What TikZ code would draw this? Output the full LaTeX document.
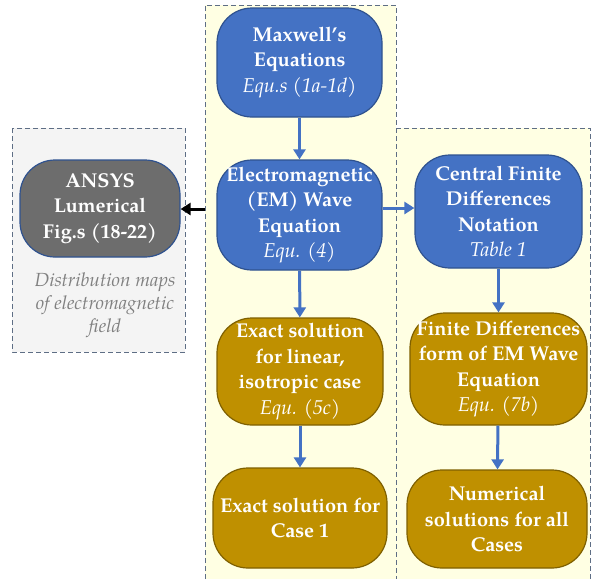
\documentclass[tikz,border=0pt]{standalone}
\usepackage{fontspec}
\setmainfont{texgyrepagella}[Extension=.otf, UprightFont=*-regular, BoldFont=*-bold, ItalicFont=*-italic, BoldItalicFont=*-bolditalic]
\usetikzlibrary{arrows.meta}
\definecolor{nblue}{HTML}{4472C4}
\definecolor{nblueb}{HTML}{2F528F}
\definecolor{ngold}{HTML}{BF9000}
\definecolor{ngoldb}{HTML}{7F6000}
\definecolor{ngray}{HTML}{6D6D6D}
\definecolor{pyel}{HTML}{FFFFE3}
\definecolor{pgray}{HTML}{F4F4F4}
\definecolor{pdash}{HTML}{5E6E85}
\definecolor{dtext}{HTML}{808080}
\newcommand{\myit}[1]{{\mdseries\itshape #1}}
\tikzset{
  box/.style={rectangle, rounded corners=35pt, draw, line width=1.2pt, text=white, align=center, inner sep=0pt, font=\fontsize{20}{25.5}\selectfont\bfseries},
  bluebox/.style={box, fill=nblue, draw=nblueb},
  goldbox/.style={box, fill=ngold, draw=ngoldb},
  graybox/.style={box, fill=ngray, draw=nblueb},
  barrow/.style={draw=nblue, line width=3pt, -{Triangle[width=12pt,length=10pt]}},
  karrow/.style={draw=black, line width=3pt, -{Triangle[width=12pt,length=10pt]}},
  panel/.style={draw=pdash, line width=1pt, dash pattern=on 5pt off 3pt},
  note/.style={text=dtext, align=center, font=\fontsize{19}{23}\selectfont\itshape}
}
\begin{document}
\begin{tikzpicture}[x=1pt,y=-1pt]
\useasboundingbox (0,0) rectangle (594,579);
% panels
\fill[pyel] (205,5) rectangle (396,579);
\fill[pyel] (396,128) rectangle (590,579);
\draw[panel] (205,579) -- (205,5) -- (396,5) -- (396,579);
\draw[panel] (396,128) -- (590,128) -- (590,579);
\draw[panel, fill=pgray] (12,128) rectangle (185,352);
% nodes
\node[bluebox, minimum width=165pt, minimum height=109pt] (max) at (299.5,62.5) {Maxwell’s\\Equations\\\myit{Equ.s (1a-1d)}};
\node[bluebox, minimum width=165pt, minimum height=110pt] (em) at (299.5,215) {Electromagnetic\\(EM) Wave\\Equation\\\myit{Equ. (4)}};
\node[graybox, minimum width=160pt, minimum height=97pt] (ansys) at (100,208.5) {ANSYS\\Lumerical\\Fig.s (18-22)};
\node[note] (dist) at (105,305) {Distribution maps\\of electromagnetic\\field};
\node[bluebox, minimum width=167pt, minimum height=113pt] (cfd) at (498.5,211.5) {Central Finite\\Differences\\Notation\\\myit{Table 1}};
\node[goldbox, minimum width=166pt, minimum height=107pt] (exact) at (300,371.5) {Exact solution\\for linear,\\isotropic case\\\myit{Equ. (5c)}};
\node[goldbox, minimum width=177pt, minimum height=112pt] (fdf) at (498.5,369) {Finite Differences\\form of EM Wave\\Equation\\\myit{Equ. (7b)}};
\node[goldbox, minimum width=174pt, minimum height=100pt] (case) at (300,518) {Exact solution for\\Case 1};
\node[goldbox, minimum width=180pt, minimum height=98pt] (num) at (497,519) {Numerical\\solutions for all\\Cases};
% connectors
\draw[barrow] (max) -- (em);
\draw[barrow] (em) -- (exact);
\draw[barrow] (exact) -- (case);
\draw[barrow] (cfd) -- (fdf);
\draw[barrow] (fdf) -- (num);
\coordinate (e1) at ([yshift=7pt]em.east);
\draw[barrow] (e1) -- (e1 -| cfd.west);
\coordinate (k1) at (205,209);
\draw[karrow] (k1) -- (k1 -| ansys.east);
\end{tikzpicture}
\end{document}
